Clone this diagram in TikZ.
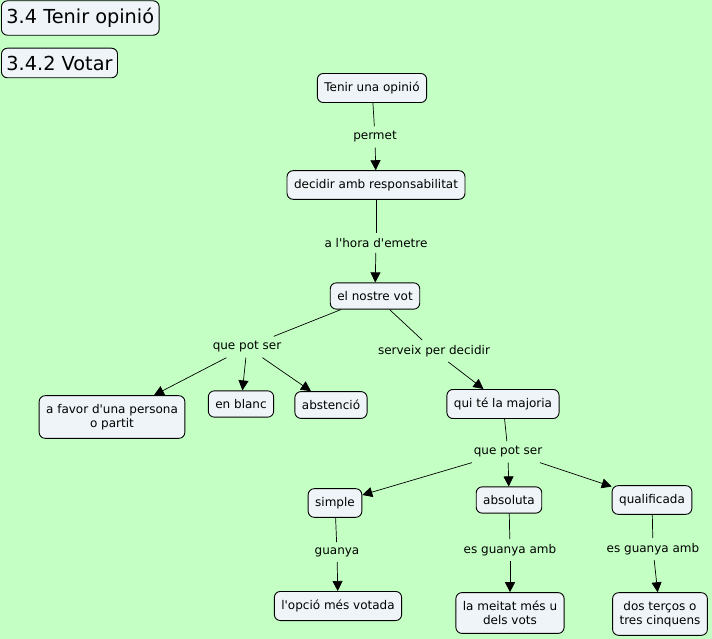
\documentclass[tikz,border=0pt]{standalone}
\usepackage{fontspec}
\setmainfont{DejaVu Sans}
\usetikzlibrary{arrows.meta}
\definecolor{mapbg}{RGB}{196,255,196}
\definecolor{boxfill}{RGB}{238,244,247}
\tikzset{
  concept/.style={draw=black, line width=0.9pt, fill=boxfill, rounded corners=6pt,
                  font=\fontsize{12}{14}\selectfont, align=center,
                  inner xsep=7pt, inner ysep=8.5pt},
  heading/.style={draw=black, line width=0.9pt, fill=boxfill, rounded corners=6pt,
                  font=\fontsize{19.3}{22}\selectfont, inner xsep=5pt, inner ysep=7.5pt,
                  anchor=west},
  linkphrase/.style={font=\fontsize{12}{14}\selectfont, inner sep=5pt},
  link/.style={line width=0.7pt},
  linkarrow/.style={line width=0.7pt, -{Triangle[length=10pt,width=10pt]}}
}
\newcommand{\apos}{\textquotesingle}
\begin{document}
\begin{tikzpicture}[x=1pt, y=-1pt]

\fill[mapbg] (0,0) rectangle (712,639);
\useasboundingbox (0,0) rectangle (712,639);

% titles
\node[heading] (tit1) at (1,18) {3.4 Tenir opinió};
\node[heading] (tit2) at (1,63) {3.4.2 Votar};

% concepts
\node[concept] (opinio) at (372,88) {Tenir una opinió};
\node[concept] (decidir) at (376,185) {decidir amb responsabilitat};
\node[concept] (vot) at (375,296) {el nostre vot};
\node[concept] (favor) at (112,417) {a favor d\apos una persona\\o partit};
\node[concept] (blanc) at (241,404) {en blanc};
\node[concept] (abst) at (331,405) {abstenció};
\node[concept] (majoria) at (503,404) {qui té la majoria};
\node[concept] (simple) at (335,503) {simple};
\node[concept] (absoluta) at (509,500) {absoluta};
\node[concept] (qualif) at (652,500) {qualificada};
\node[concept] (votada) at (338,606) {l\apos opció més votada};
\node[concept] (meitat) at (510,613) {la meitat més u\\dels vots};
\node[concept] (tercos) at (660,614) {dos terços o\\tres cinquens};

% linking phrases
\node[linkphrase] (permet) at (375,137) {permet};
\node[linkphrase] (hora) at (376,243) {a l\apos hora d\apos emetre};
\node[linkphrase] (potser1) at (247,347) {que pot ser};
\node[linkphrase] (serveix) at (434,351) {serveix per decidir};
\node[linkphrase] (potser2) at (508,452) {que pot ser};
\node[linkphrase] (guanya) at (337,552) {guanya};
\node[linkphrase] (amb1) at (510,550) {es guanya amb};
\node[linkphrase] (amb2) at (653,549) {es guanya amb};

% connectors
\draw[link] (opinio) -- (permet);
\draw[linkarrow] (permet) -- (decidir);
\draw[link] (decidir) -- (hora);
\draw[linkarrow] (hora) -- (vot);
\draw[link] (vot) -- (potser1);
\draw[linkarrow] (potser1) -- (favor);
\draw[linkarrow] (potser1) -- (blanc);
\draw[linkarrow] (potser1) -- (abst);
\draw[link] (vot) -- (serveix);
\draw[linkarrow] (serveix) -- (majoria);
\draw[link] (majoria) -- (potser2);
\draw[linkarrow] (potser2) -- (simple);
\draw[linkarrow] (potser2) -- (absoluta);
\draw[linkarrow] (potser2) -- (qualif);
\draw[link] (simple) -- (guanya);
\draw[linkarrow] (guanya) -- (votada);
\draw[link] (absoluta) -- (amb1);
\draw[linkarrow] (amb1) -- (meitat);
\draw[link] (qualif) -- (amb2);
\draw[linkarrow] (amb2) -- (tercos);
\end{tikzpicture}
\end{document}
